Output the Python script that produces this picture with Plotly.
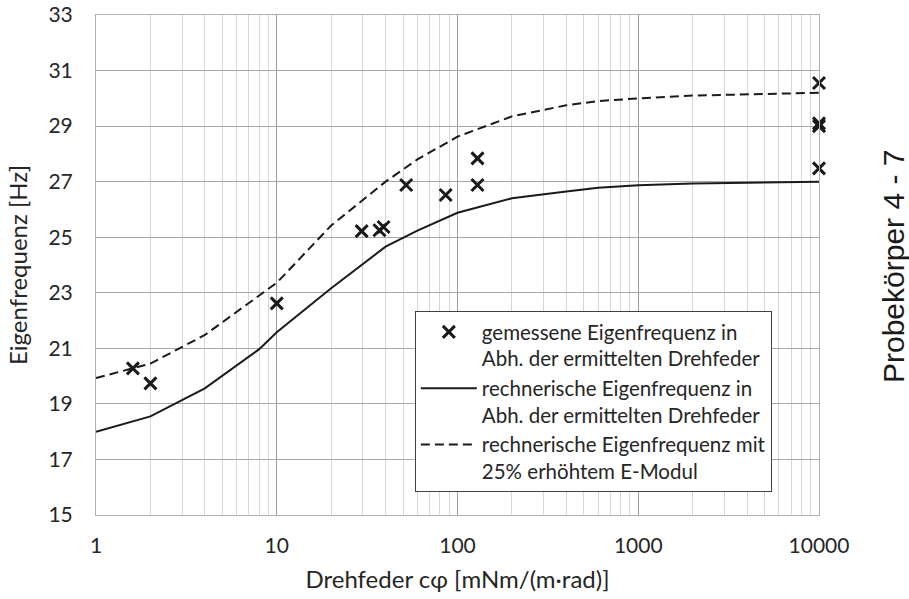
import plotly.graph_objects as go

# Drehfeder (mNm/(m·rad)) and natural frequencies (Hz)
calc_c = [1, 2, 4, 8, 10, 20, 40, 60, 100, 200, 400, 600, 1000, 2000, 4000, 10000]
calc_f = [18.0, 18.55, 19.56, 20.97, 21.58, 23.16, 24.66, 25.24, 25.88, 26.4, 26.65, 26.78, 26.87, 26.93, 26.96, 27.0]
calc_f_emod = [19.93, 20.45, 21.48, 22.9, 23.36, 25.42, 27.0, 27.8, 28.62, 29.35, 29.75, 29.9, 30.0, 30.1, 30.15, 30.2]

meas_c = [1.6, 2.0, 10, 29.5, 37, 39, 52, 86, 129, 129, 10000, 10000, 10000, 10000]
meas_f = [20.28, 19.74, 22.62, 25.22, 25.25, 25.37, 26.88, 26.52, 26.88, 27.84, 30.55, 29.1, 29.0, 27.48]

y_ticks = [15, 17, 19, 21, 23, 25, 27, 29, 31, 33]
x_ticks = [1, 10, 100, 1000, 10000]
x_ticklabels = ["1", "10", "100", "1000", "10000"]

name_meas = "gemessene Eigenfrequenz in<br>Abh. der ermittelten Drehfeder"
name_calc = "rechnerische Eigenfrequenz in<br>Abh. der ermittelten Drehfeder"
name_emod = "rechnerische Eigenfrequenz mit<br>25% erhöhtem E-Modul"

TXT = "#262626"
FONT = "Lato"

fig = go.Figure()
fig.add_trace(go.Scatter(
    x=meas_c, y=meas_f, mode="markers", name=name_meas, cliponaxis=False,
    marker=dict(symbol="x-thin", size=12, line=dict(width=3, color="#1a1a1a"), color="#1a1a1a"),
))
fig.add_trace(go.Scatter(
    x=calc_c, y=calc_f, mode="lines", name=name_calc,
    line=dict(color="#1a1a1a", width=2),
))
fig.add_trace(go.Scatter(
    x=calc_c, y=calc_f_emod, mode="lines", name=name_emod,
    line=dict(color="#1a1a1a", width=2, dash="9px,5px"),
))

fig.update_layout(
    width=909, height=599,
    margin=dict(l=96, r=90, t=15, b=84, autoexpand=False),
    paper_bgcolor="white", plot_bgcolor="white",
    font=dict(family=FONT, size=21, color=TXT),
    showlegend=True,
    legend=dict(
        x=0.441, y=0.408, xanchor="left", yanchor="top",
        bgcolor="white", bordercolor="#404040", borderwidth=1,
        font=dict(family=FONT, size=20.5, color=TXT),
        valign="top", tracegroupgap=0, itemwidth=56,
    ),
    xaxis=dict(
        type="log", range=[0, 4], automargin=False,
        tickvals=x_ticks, ticktext=x_ticklabels,
        showgrid=True, gridcolor="#9c9c9c", gridwidth=1,
        minor=dict(showgrid=True, dtick="D1", gridcolor="#d6d6d6", gridwidth=1),
        showline=True, linecolor="#b0b0b0", mirror=True,
        ticks="", ticklen=0, ticklabelstandoff=12,
        tickfont=dict(family=FONT, size=21, color=TXT),
        title=dict(text="Drehfeder cφ [mNm/(m·rad)]", font=dict(family=FONT, size=24, color=TXT), standoff=14),
        zeroline=False,
    ),
    yaxis=dict(
        range=[15, 33], tickvals=y_ticks, automargin=False,
        showgrid=True, gridcolor="#a8a8a8", gridwidth=1,
        showline=True, linecolor="#b0b0b0", mirror=True,
        ticks="", ticklen=0, ticklabelstandoff=18,
        tickfont=dict(family=FONT, size=21, color=TXT),
        title=dict(text="Eigenfrequenz [Hz]", font=dict(family=FONT, size=24, color=TXT), standoff=14),
        zeroline=False,
    ),
)

fig.add_annotation(
    text="Probekörper 4 - 7", xref="paper", yref="paper",
    x=1.0, y=0.5, xanchor="center", yanchor="middle", xshift=74, yshift=-2, textangle=-90,
    showarrow=False, font=dict(family="Liberation Sans", size=30, color="#1a1a1a"),
)

fig.write_html("out.html")
